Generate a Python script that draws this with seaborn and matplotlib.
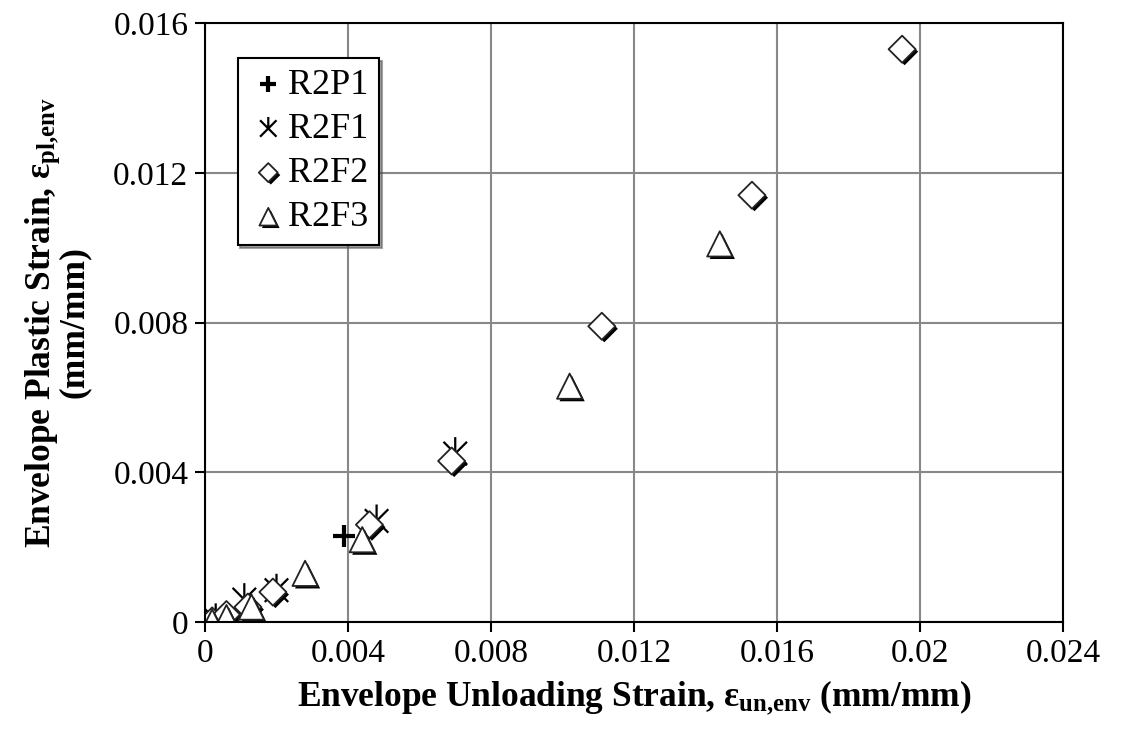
import numpy as np
import pandas as pd
import matplotlib
matplotlib.use('Agg')
import matplotlib.pyplot as plt
import matplotlib.patheffects as pe
from matplotlib.path import Path
import seaborn as sns

# data
p1_x = [0.0002, 0.0039]
p1_y = [0.00004, 0.0023]
f1_x = [0.0003, 0.0011, 0.0020, 0.0048, 0.0070]
f1_y = [0.00006, 0.0006, 0.00085, 0.0027, 0.0045]
f2_x = [0.0002, 0.0006, 0.0012, 0.0019, 0.0046, 0.0069, 0.0111, 0.0153, 0.0195]
f2_y = [0.00003, 0.0002, 0.0004, 0.0008, 0.0026, 0.0043, 0.0079, 0.0114, 0.0153]
f3_x = [0.0002, 0.0006, 0.0013, 0.0028, 0.0044, 0.0102, 0.0144]
f3_y = [0.0, 0.00012, 0.0004, 0.0013, 0.0022, 0.0063, 0.0101]

x_ticks = [0, 0.004, 0.008, 0.012, 0.016, 0.02, 0.024]
x_labels = ['0', '0.004', '0.008', '0.012', '0.016', '0.02', '0.024']
y_ticks = [0, 0.004, 0.008, 0.012, 0.016]
y_labels = ['0', '0.004', '0.008', '0.012', '0.016']

sns.set_style('white')
plt.rcParams['font.family'] = ['Liberation Serif', 'DejaVu Serif']
plt.rcParams['mathtext.fontset'] = 'custom'
plt.rcParams['mathtext.rm'] = 'Liberation Serif'
plt.rcParams['mathtext.bf'] = 'Liberation Serif:bold'
for key in ['text.color', 'axes.labelcolor', 'xtick.color', 'ytick.color']:
    plt.rcParams[key] = 'black'

# excel style asterisk: an x with a vertical stroke on top
star = Path([(-1, -1), (1, 1), (-1, 1), (1, -1), (0, 0), (0, 1.4)],
            [Path.MOVETO, Path.LINETO, Path.MOVETO, Path.LINETO, Path.MOVETO, Path.LINETO])

shadow = [pe.SimplePatchShadow(offset=(1.8, -1.8), shadow_rgbFace='black', alpha=1.0), pe.Normal()]

series = [
    ('R2P1', p1_x, p1_y, dict(marker='+', s=260, color='black', linewidth=3)),
    ('R2F1', f1_x, f1_y, dict(marker=star, s=560, facecolor='none', edgecolor='black', linewidth=1.6)),
    ('R2F2', f2_x, f2_y, dict(marker='D', s=190, facecolor='white', edgecolor='#222222', linewidth=1.3)),
    ('R2F3', f3_x, f3_y, dict(marker='^', s=330, facecolor='white', edgecolor='#222222', linewidth=1.3)),
]

fig = plt.figure(figsize=(11.22, 7.35), dpi=100)
ax = fig.add_axes([0.1827, 0.1537, 0.7647, 0.815])

for name, xs, ys, kw in series:
    df = pd.DataFrame({'x': xs, 'y': ys})
    sns.scatterplot(data=df, x='x', y='y', ax=ax, label=name, **kw)
    if name in ('R2F2', 'R2F3'):
        ax.collections[-1].set_path_effects(shadow)

ax.set_xlim(0, 0.024)
ax.set_ylim(0, 0.016)
ax.set_xticks(x_ticks)
ax.set_xticklabels(x_labels)
ax.set_yticks(y_ticks)
ax.set_yticklabels(y_labels)
ax.tick_params(labelsize=24, direction='out', length=7, width=1.5, bottom=True, left=True, pad=5)
ax.grid(True, color='#888888', linewidth=1.5)
for sp in ax.spines.values():
    sp.set_color('black')
    sp.set_linewidth(1.5)

ax.set_xlabel('Envelope Unloading Strain, $\\mathbf{ε_{un{,}env}}$ (mm/mm)',
              fontsize=25.5, fontweight='bold', labelpad=7)
ax.set_ylabel('Envelope Plastic Strain, $\\mathbf{ε_{pl{,}env}}$\n(mm/mm)',
              fontsize=25.5, fontweight='bold', labelpad=16, linespacing=0.85)

leg = ax.legend(loc='upper left', bbox_to_anchor=(0.038, 0.942), borderaxespad=0, fontsize=26,
                frameon=True, fancybox=False, shadow=True, handletextpad=0.0, borderpad=0.3,
                labelspacing=0.3, handlelength=1.1, markerscale=0.7)
leg.get_frame().set_edgecolor('black')
leg.get_frame().set_linewidth(1.5)
for h in leg.legend_handles[2:]:
    h.set_path_effects(shadow)

fig.savefig('out.png', dpi=100)
